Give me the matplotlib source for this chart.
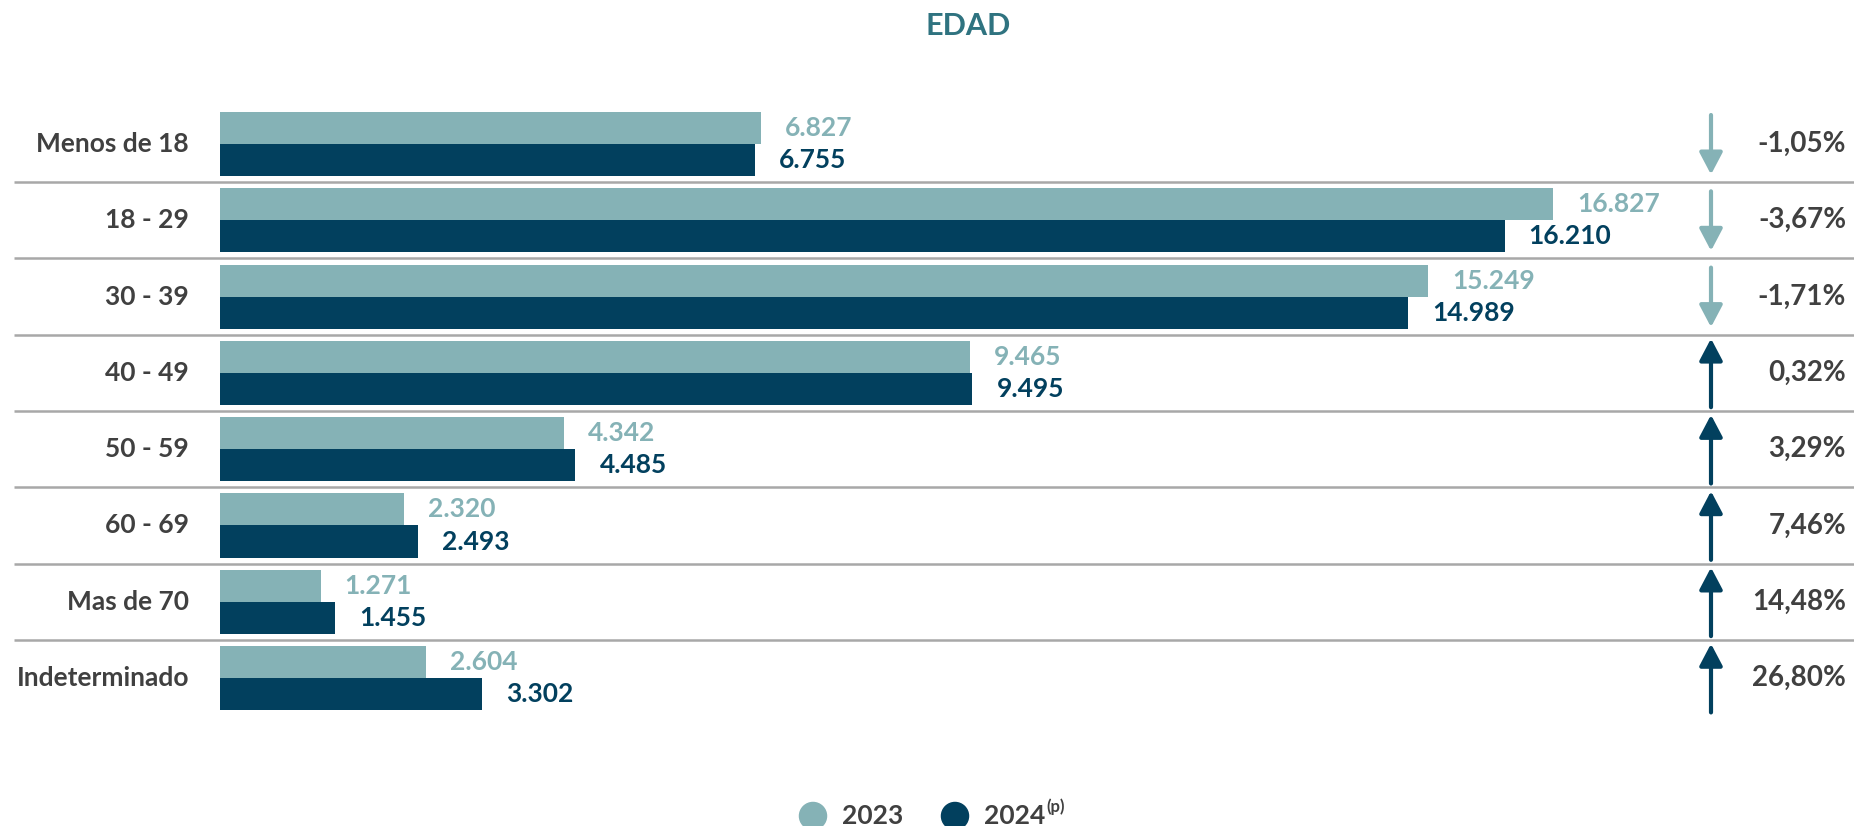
import matplotlib.pyplot as plt
import matplotlib.transforms as mtransforms

plt.rcParams['font.family'] = ['Lato', 'DejaVu Sans']

# data
categorias = ['Menos de 18', '18 - 29', '30 - 39', '40 - 49', '50 - 59',
              '60 - 69', 'Mas de 70', 'Indeterminado']
v2023 = [6827, 16827, 15249, 9465, 4342, 2320, 1271, 2604]
v2024 = [6755, 16210, 14989, 9495, 4485, 2493, 1455, 3302]
variacion = [-1.05, -3.67, -1.71, 0.32, 3.29, 7.46, 14.48, 26.80]

c_light = '#85b2b6'
c_dark = '#02405e'
c_text = '#404040'
c_grid = '#a8a8a8'


def fmt_miles(v):
    return f'{v:,}'.replace(',', '.')


def fmt_pct(v):
    return f'{v:.2f}%'.replace('.', ',')


W, H = 1854, 826
fig = plt.figure(figsize=(W / 100, H / 100), dpi=100)
ax = fig.add_axes([0, 0, 1, 1])
ax.axis('off')

# pixel geometry: bars start at x=220 px, 16827 -> ~1553 px
px_per_unit = (761 - 220) / 6827
ax.set_xlim(-220 / px_per_unit, (W - 220) / px_per_unit)
row0, pitch = 144, 76.3
ax.set_ylim((H - row0) / pitch, -row0 / pitch)

y = list(range(len(categorias)))
bh = 0.42
y_top = [i - bh / 2 for i in y]
y_bot = [i + bh / 2 for i in y]

ax.barh(y_top, v2023, height=bh, color=c_light)
ax.barh(y_bot, v2024, height=bh, color=c_dark)

for yt, yb, a, b in zip(y_top, y_bot, v2023, v2024):
    ax.annotate(fmt_miles(a), (a, yt), xytext=(24, 0), textcoords='offset pixels',
                va='center', ha='left', fontsize=19, fontweight='bold', color=c_light)
    ax.annotate(fmt_miles(b), (b, yb), xytext=(24, 0), textcoords='offset pixels',
                va='center', ha='left', fontsize=19, fontweight='bold', color=c_dark)

trans = mtransforms.blended_transform_factory(ax.transAxes, ax.transData)

# categories
for i, cat in zip(y, categorias):
    ax.text(189 / W, i, cat, transform=trans, ha='right', va='center',
            fontsize=19, fontweight='bold', color=c_text)

# separators
for i in y[:-1]:
    ax.plot([14 / W, 1], [i + 0.5, i + 0.5], transform=trans, color=c_grid,
            lw=1.8, solid_capstyle='butt')

# arrows and percentages
xa = 1711 / W
for i, p in zip(y, variacion):
    if p < 0:
        start, end, col = i - 0.38, i + 0.4, c_light
    else:
        start, end, col = i + 0.45, i - 0.45, c_dark
    ax.annotate('', xy=(xa, end), xytext=(xa, start), xycoords=trans, textcoords=trans,
                arrowprops=dict(arrowstyle='-|>,head_length=0.95,head_width=0.5',
                                mutation_scale=14, color=col, lw=3,
                                shrinkA=0, shrinkB=0))
    ax.text(1846 / W, i, fmt_pct(p), transform=trans, ha='right', va='center',
            fontsize=20, fontweight='bold', color=c_text)

# title
fig.text(968 / W, 1 - 26 / H, 'EDAD', ha='center', va='center', fontsize=22,
         fontweight='bold', color='#2f7380')

# legend
ly = 1 - 816 / H
ax.scatter([813 / W, 955 / W], [ly, ly], transform=ax.transAxes, s=380,
           color=[c_light, c_dark], clip_on=False)
fig.text(842 / W, ly, '2023', ha='left', va='center', fontsize=19,
         fontweight='bold', color=c_text)
t24 = fig.text(984 / W, ly, '2024', ha='left', va='center', fontsize=19,
               fontweight='bold', color=c_text)
ax.annotate('(p)', xy=(1, 1), xycoords=t24, xytext=(1, 4),
            textcoords='offset points', ha='left', va='top', fontsize=12,
            fontweight='bold', color=c_text)

fig.savefig('out.png', dpi=100)
